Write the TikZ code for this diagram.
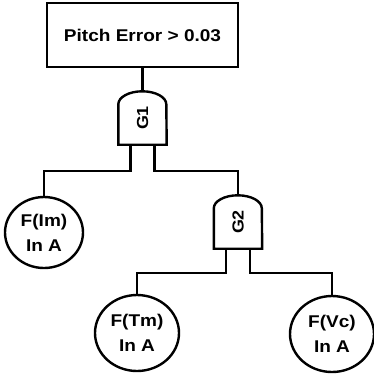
\documentclass[tikz,border=0pt]{standalone}
\usepackage{fontspec}
\newfontfamily\diagfont[FakeStretch=1.12]{Liberation Sans}
\usepackage{tikz}
\usetikzlibrary{shapes,positioning,calc}
\newcommand{\drawgate}[1]{%
  \draw[wire] (#1.south west) -- ([yshift=-13pt]#1.north west)
    arc[start angle=180, end angle=0, x radius=24pt, y radius=13pt]
    -- (#1.south east) -- cycle;}

\begin{document}
\begin{tikzpicture}[
    x=1pt, y=1pt,
    wire/.style={draw, line width=2.4pt},
    eventbox/.style={draw, line width=2.4pt, minimum width=191pt, minimum height=64pt, align=center, font=\diagfont\bfseries\fontsize{17}{25}\selectfont},
    gatebox/.style={minimum width=48pt, minimum height=53pt, inner sep=0pt, font=\diagfont\bfseries\fontsize{16}{18}\selectfont},
    basic/.style={draw, ellipse, line width=2.4pt, inner sep=0pt, minimum width=84pt, minimum height=76pt, align=center, font=\diagfont\bfseries\fontsize{17}{25}\selectfont}
]
\useasboundingbox (0,0) rectangle (374,-373);

% ========== TOP EVENT ==========
\node[eventbox] (top) at (142.5,-35) {Pitch Error > 0.03};

% ========== GATES ==========
\node[gatebox] (g1) at (142.5,-118) {\rotatebox{90}{G1}};
\drawgate{g1}
\node[gatebox] (g2) at (238,-222) {\rotatebox{90}{G2}};
\drawgate{g2}

% gate inputs
\coordinate (g1l) at ([xshift=-12pt]g1.south);
\coordinate (g1r) at ([xshift=12pt]g1.south);
\coordinate (g2l) at ([xshift=-12pt]g2.south);
\coordinate (g2r) at ([xshift=12pt]g2.south);

% ========== BASIC EVENTS ==========
\node[basic, minimum width=78pt, minimum height=71pt] (fim) at (44,-232.5) {F(Im)\\In A};
\node[basic] (ftm) at (137,-333) {F(Tm)\\In A};
\node[basic] (fvc) at (332,-334) {F(Vc)\\In A};

% ========== CONNECTIONS ==========
\draw[wire] (top.south) -- (g1.north);
\draw[wire] (g1l) -- ++(0,-26) -| (fim.north);
\draw[wire] (g1r) -- ++(0,-26) -| (g2.north);
\draw[wire] (g2l) -- ++(0,-24) -| (ftm.north);
\draw[wire] (g2r) -- ++(0,-24) -| (fvc.north);

\end{tikzpicture}
\end{document}
